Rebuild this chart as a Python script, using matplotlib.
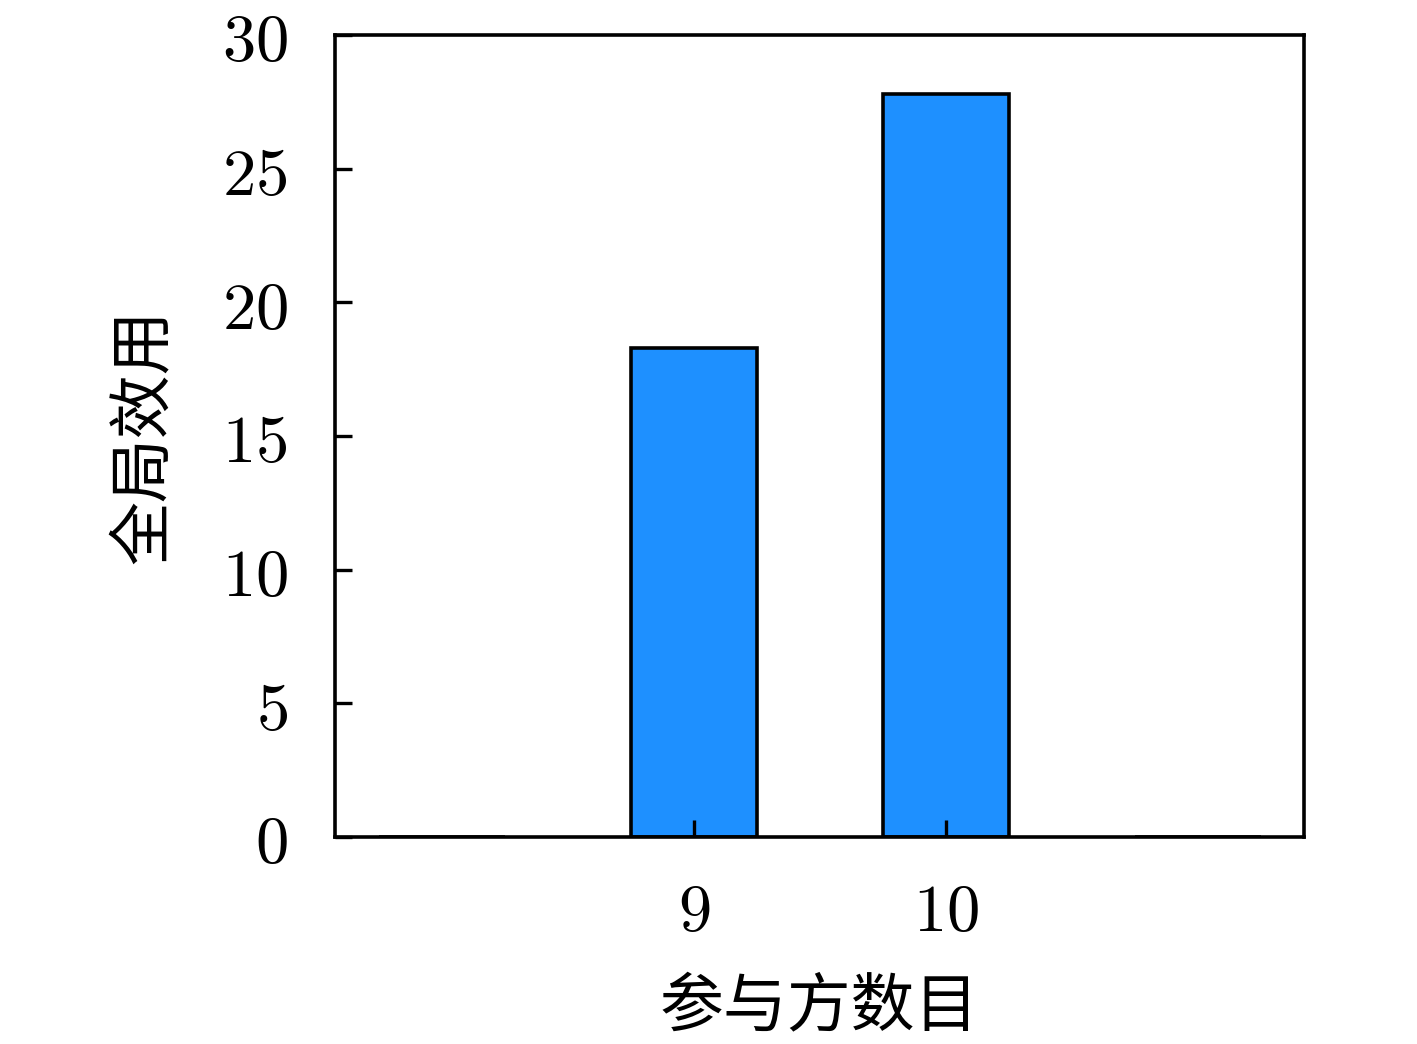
import matplotlib
matplotlib.use("Agg")
import matplotlib.pyplot as plt
from matplotlib.ticker import FuncFormatter

plt.rcParams['font.family'] = ['Noto Sans CJK SC', 'DejaVu Sans']
plt.rcParams['mathtext.fontset'] = 'cm'

participants = [8, 9, 10, 11]
utility = [0.0, 18.3, 27.8, 0.0]
xticks = [9, 10]
yticks = [0, 5, 10, 15, 20, 25, 30]
xlabel = '参与方数目'
ylabel = '全局效用'

fig = plt.figure(figsize=(1417/200, 1044/200), dpi=200)
ax = fig.add_axes([0.2364, 0.1983, 0.9203 - 0.2364, 0.9665 - 0.1983])

ax.bar(participants, utility, width=0.5, color='#1E90FF', edgecolor='black', linewidth=1.3)

ax.set_xlim(7.575, 11.42)
ax.set_ylim(0, 30)
ax.set_xticks(xticks)
ax.set_yticks(yticks)
fmt = FuncFormatter(lambda v, p: r'$%d$' % v)
ax.xaxis.set_major_formatter(fmt)
ax.yaxis.set_major_formatter(fmt)
ax.tick_params(direction='in', length=6, width=1.2, labelsize=24)
ax.tick_params(axis='x', pad=15)
ax.tick_params(axis='y', pad=17)
for s in ax.spines.values():
    s.set_linewidth(1.3)
for lbl in ax.get_yticklabels():
    lbl.set_verticalalignment('center_baseline')

ax.set_xlabel(xlabel, fontsize=23, labelpad=10)
ax.set_ylabel(ylabel, fontsize=23, labelpad=16)

fig.savefig('out.png', dpi=200)
